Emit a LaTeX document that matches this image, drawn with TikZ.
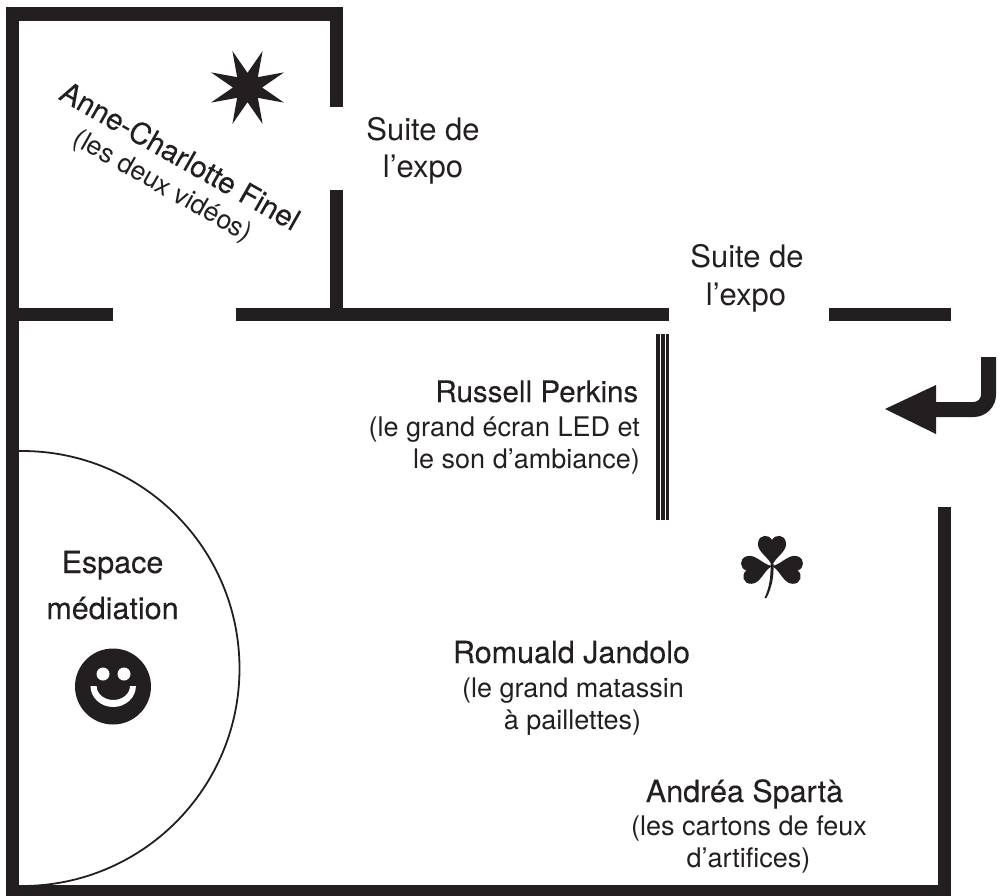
\documentclass[tikz,border=0pt]{standalone}
\usepackage{fontspec}
\setmainfont{TeX Gyre Heros}
\newfontfamily\namefont[FakeBold=0.25]{TeX Gyre Heros}
\usetikzlibrary{shapes.geometric}
\definecolor{ink}{HTML}{231F20}
\tikzset{
  wall/.style={line width=13.2pt, color=ink},
  namelabel/.style={anchor=base, inner sep=0pt, text=ink, font=\namefont\fontsize{30.5}{30.5}\selectfont},
  sublabel/.style={anchor=base, inner sep=0pt, text=ink, font=\fontsize{27}{27}\selectfont},
  bigchar/.style={anchor=base, inner sep=0pt, text=ink, font=\fontsize{31}{31}\selectfont}
}
\begin{document}
\begin{tikzpicture}[x=1pt, y=-1pt]
\useasboundingbox (0, 0) rectangle (1006, 896);

% walls
\draw [wall] (12.5, 896) -- (12.5, 14) -- (336.5, 14) -- (336.5, 107);
\draw [wall] (336.5, 190) -- (336.5, 314.5);
\draw [wall] (6, 314.5) -- (113, 314.5);
\draw [wall] (236, 314.5) -- (669, 314.5);
\draw [wall] (829, 314.5) -- (951, 314.5);
\draw [wall] (944.5, 507) -- (944.5, 892);
\draw [wall] (6, 892) -- (951, 892);

% screen
\fill [ink] (656, 334) rectangle (669, 520);
\draw [white, line width=0.9pt] (660.5, 334) -- (660.5, 520);
\draw [white, line width=0.9pt] (665, 334) -- (665, 520);

% way in
\draw [ink, line width=15pt, rounded corners=15pt] (988.5, 357) -- (988.5, 409.5) -- (930, 409.5);
\fill [ink] (885, 409) -- (936, 385) -- (936, 434) -- cycle;

% mediation
\draw [ink, line width=1.8pt] (19, 451) -- (22, 451) arc [start angle=-90, end angle=90, radius=217.5] -- (19, 886);
\fill [ink] (113, 686.5) circle (38);
\fill [white] (103, 674) circle (6.5);
\fill [white] (124, 674) circle (6.5);
\fill [white] (90.5, 686) arc [start angle=180, end angle=0, x radius=22.7, y radius=21]
    -- (130, 686) arc [start angle=0, end angle=180, x radius=16.7, y radius=14] -- cycle;

% star
\node (star8) [star, star points=8, star point ratio=2.7, shape border rotate=22.5,
    fill=ink, inner sep=0pt, minimum size=79pt] at (247.5, 87.5) {};

% clover
\foreach \leaf in {0, -100, 100} {
  \fill [ink, shift={(772, 566)}, rotate=\leaf] (0, 0)
    .. controls (-3, -9) and (-15, -14) .. (-14, -23)
    .. controls (-13, -32) and (-3, -32) .. (0, -26)
    .. controls (3, -32) and (13, -32) .. (14, -23)
    .. controls (15, -14) and (3, -9) .. (0, 0) -- cycle;
}
\fill [ink] (770.5, 564) .. controls (771, 578) and (769, 588) .. (764.5, 598)
    -- (766.5, 598) .. controls (771.5, 588) and (774, 578) .. (773.5, 564) -- cycle;

% labels
\node (suiteA) [bigchar] at (423, 141) {Suite de};
\node (expoA) [bigchar] at (423, 178) {l’expo};
\node (suiteB) [bigchar] at (747, 267) {Suite de};
\node (expoB) [bigchar] at (746, 305) {l’expo};

\node (anne) [namelabel, rotate=-29.5, font=\namefont\fontsize{29.5}{29.5}\selectfont] at (175, 165) {Anne-Charlotte Finel};
\node (annesub) [sublabel, rotate=-29.5, font=\fontsize{26.5}{26.5}\selectfont] at (159, 193) {(les deux vidéos)};

\node (russell) [namelabel, anchor=base east, font=\namefont\fontsize{29.6}{29.6}\selectfont] at (638.5, 402) {Russell Perkins};
\node (russellA) [sublabel, anchor=base east] at (640, 436) {(le grand écran LED et};
\node (russellB) [sublabel, anchor=base east] at (640, 468) {le son d’ambiance)};

\node (espace) [namelabel] at (112.5, 573) {Espace};
\node (media) [namelabel] at (112.5, 619) {médiation};

\node (romuald) [namelabel] at (571.5, 663) {Romuald Jandolo};
\node (romualdA) [sublabel] at (573, 697) {(le grand matassin};
\node (romualdB) [sublabel] at (572.5, 729) {à paillettes)};

\node (andrea) [namelabel] at (744.5, 802) {Andréa Spartà};
\node (andreaA) [sublabel] at (749, 835) {(les cartons de feux};
\node (andreaB) [sublabel] at (748.5, 867) {d’artifices)};
\end{tikzpicture}
\end{document}
